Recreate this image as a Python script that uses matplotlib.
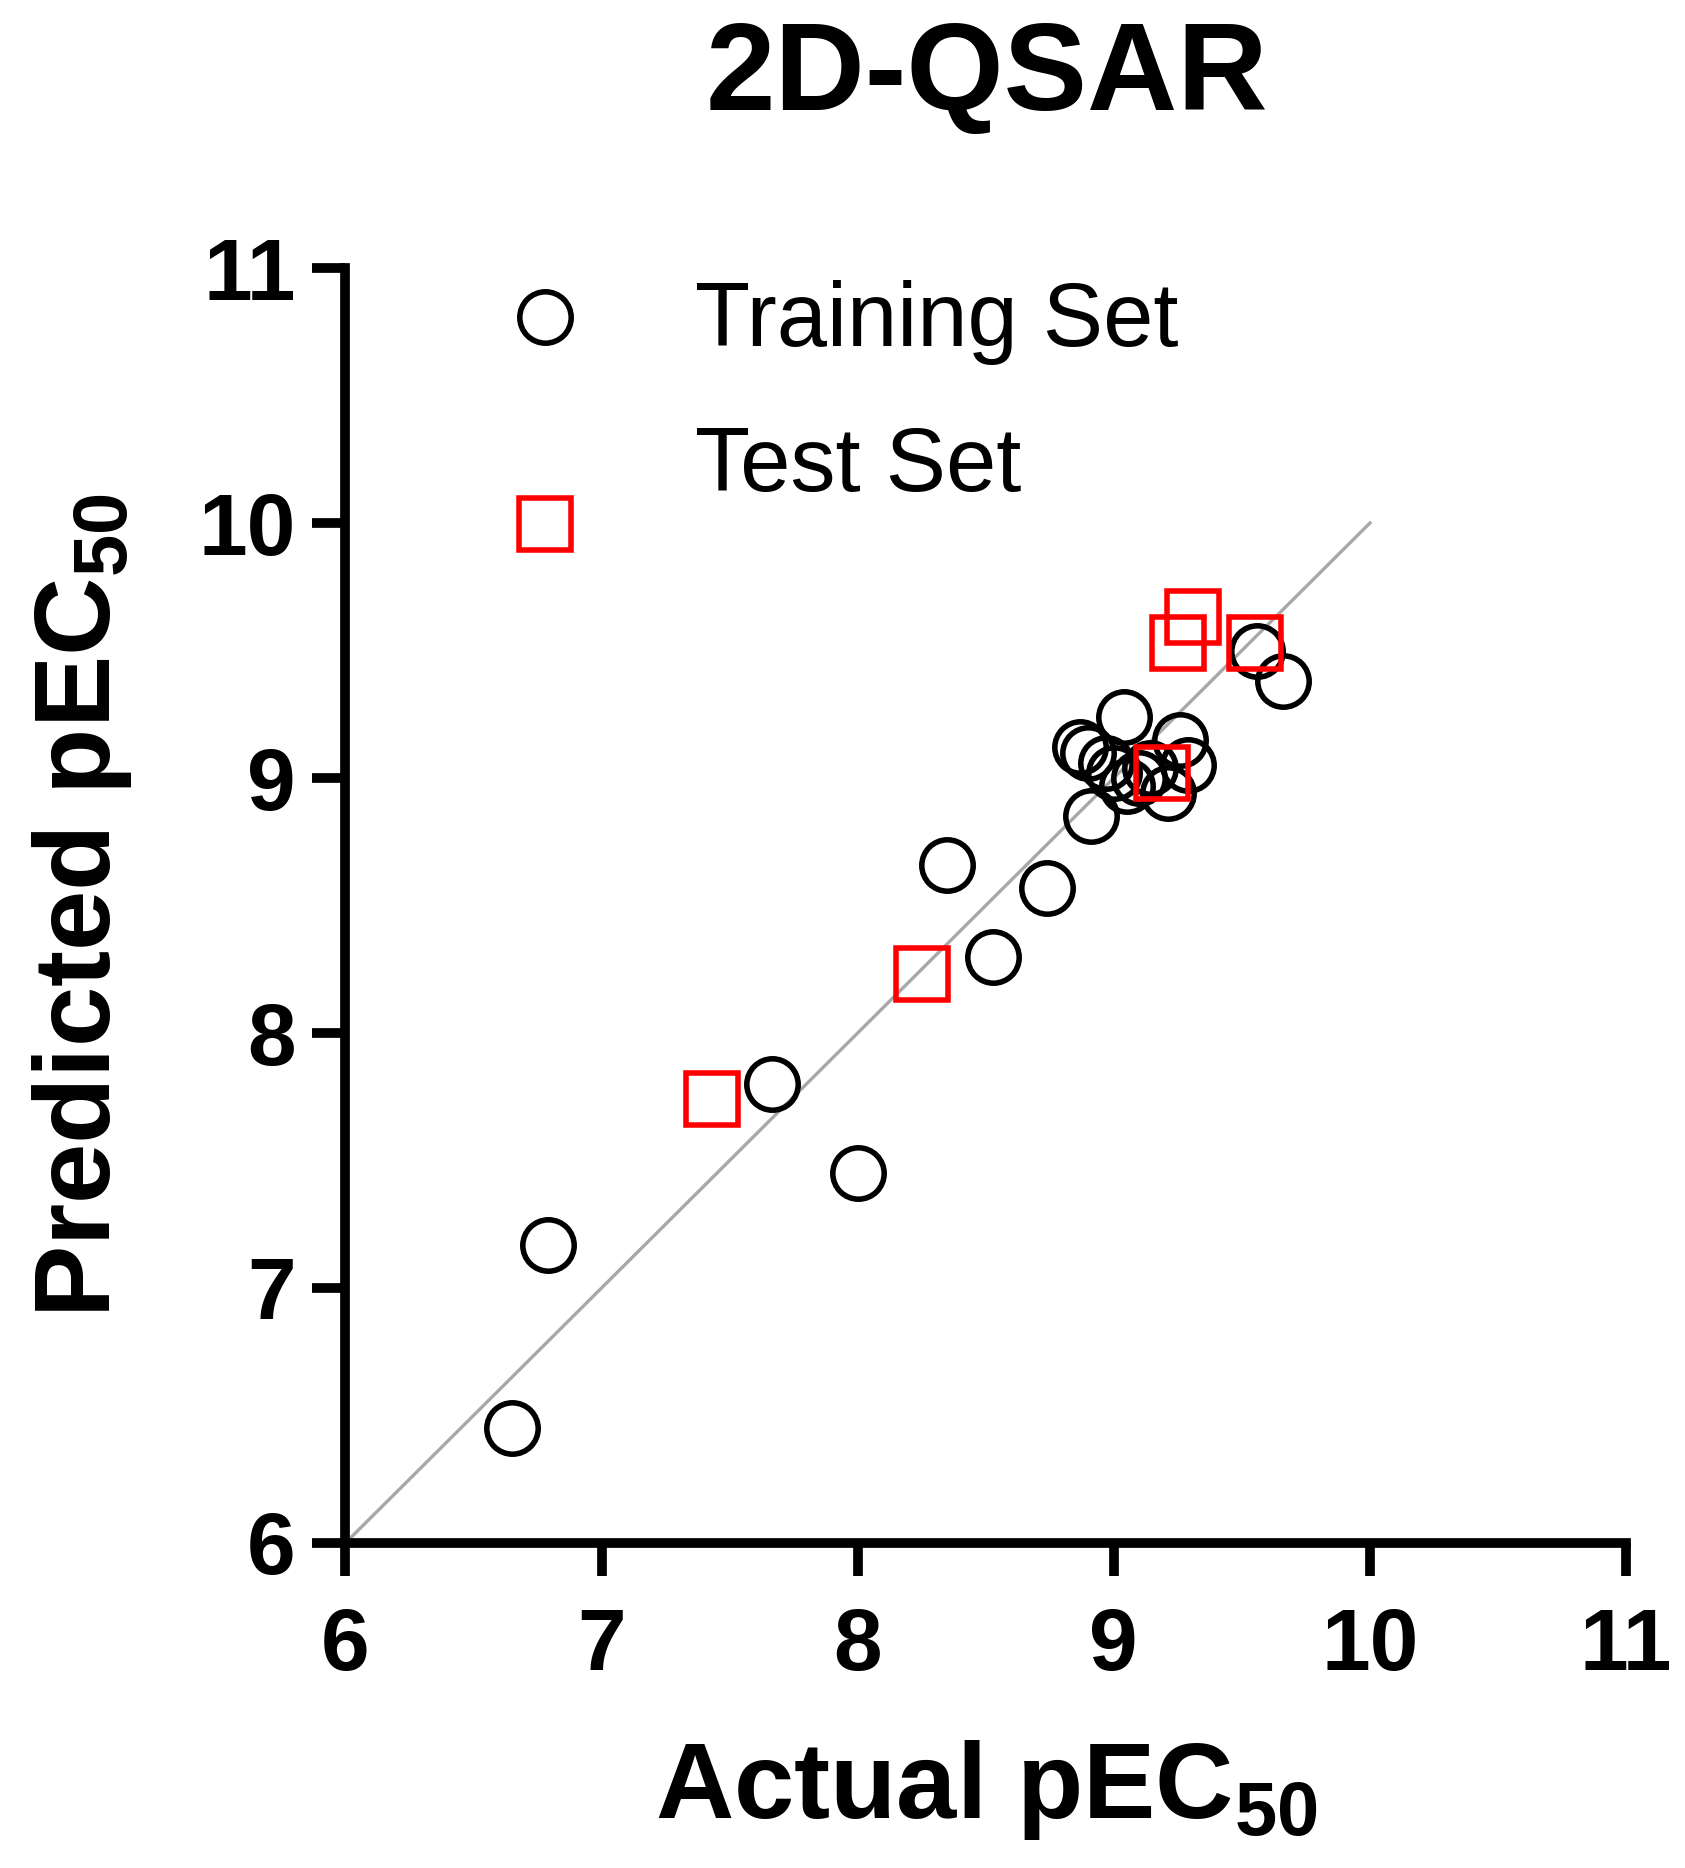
import matplotlib
matplotlib.use("Agg")
import matplotlib.pyplot as plt

plt.rcParams["font.family"] = ["Liberation Sans", "DejaVu Sans"]
plt.rcParams["mathtext.default"] = "regular"

# Training set (actual, predicted)
train_actual = [6.65, 6.79, 7.665, 8.00, 8.35, 8.53, 8.74, 8.91, 8.87, 8.90,
                8.97, 9.00, 9.04, 9.05, 9.10, 9.14, 9.26, 9.29, 9.21, 9.56, 9.66]
train_pred = [6.45, 7.17, 7.80, 7.45, 8.66, 8.30, 8.57, 8.85, 9.12, 9.10,
              9.06, 9.02, 9.24, 8.97, 9.00, 9.04, 9.15, 9.05, 8.94, 9.50, 9.38]

# Test set (actual, predicted)
test_actual = [7.43, 8.25, 9.25, 9.31, 9.55, 9.19]
test_pred = [7.74, 8.23, 9.53, 9.63, 9.53, 9.02]

ticks = [6, 7, 8, 9, 10, 11]
line_xy = [6, 10]

fig = plt.figure(figsize=(16.85, 18.68), dpi=100)
ax = fig.add_axes([0.205, 0.174, 0.760, 0.6825])

ax.plot(line_xy, line_xy, color="#a8a8a8", lw=2.4, zorder=1)
ax.plot(train_actual, train_pred, "o", ms=37, mfc="none", mec="black",
        mew=4, clip_on=False, zorder=3)
ax.plot(test_actual, test_pred, "s", ms=38, mfc="none", mec="#ff0000",
        mew=4, clip_on=False, zorder=4)

ax.set_xlim(6, 11)
ax.set_ylim(6, 11)
ax.set_xticks(ticks)
ax.set_yticks(ticks)
ax.spines["top"].set_visible(False)
ax.spines["right"].set_visible(False)
for s in ["left", "bottom"]:
    ax.spines[s].set_linewidth(7)
ax.tick_params(axis="both", direction="out", length=24, width=7,
               labelsize=63)
ax.tick_params(axis="x", pad=22)
ax.tick_params(axis="y", pad=12)
for lab in ax.get_xticklabels() + ax.get_yticklabels():
    lab.set_fontweight("bold")

ax.set_xlabel("Actual pEC$_{50}$", fontsize=78, fontweight="bold", labelpad=36)
ax.set_ylabel("Predicted pEC$_{50}$", fontsize=78, fontweight="bold", labelpad=46)

fig.text(0.586, 0.958, "2D-QSAR", fontsize=90, fontweight="bold",
         ha="center", va="center")

# legend drawn by hand (GraphPad style)
ax.plot([0.156], [0.962], "o", ms=37, mfc="none", mec="black", mew=4,
        transform=ax.transAxes, clip_on=False)
ax.plot([0.156], [0.799], "s", ms=38, mfc="none", mec="#ff0000", mew=4,
        transform=ax.transAxes, clip_on=False)
ax.text(0.2726, 0.939, "Training Set", fontsize=65, transform=ax.transAxes,
        va="baseline")
ax.text(0.2726, 0.825, "Test Set", fontsize=65, transform=ax.transAxes,
        va="baseline")

fig.savefig("out.png", dpi=100)
